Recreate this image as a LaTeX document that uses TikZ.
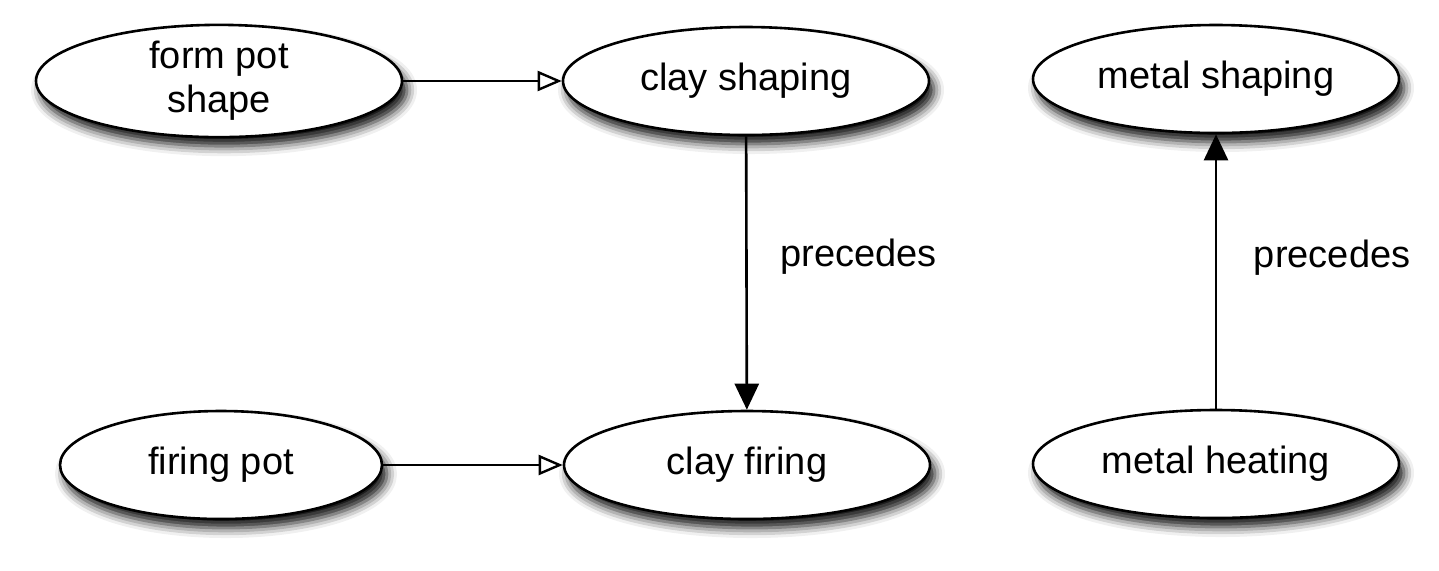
\documentclass[tikz,border=0pt]{standalone}
\usepackage{fontspec}
\setmainfont{Liberation Sans}
\usetikzlibrary{shapes.geometric,arrows.meta,shadows.blur}
\begin{document}
\begin{tikzpicture}[x=0.5pt,y=-0.5pt,
  ell/.style={ellipse,draw=black,line width=1.3pt,fill=white,inner sep=0pt,
    minimum width=183pt,minimum height=54pt,align=center,
    font=\fontsize{19}{22}\selectfont,
    blur shadow={shadow xshift=2.5pt,shadow yshift=-4.5pt,shadow blur radius=5pt,shadow opacity=95}},
  openarr/.style={line width=1.3pt,-{Triangle[open,length=12pt,width=10pt,line width=1.2pt]}},
  fullarr/.style={line width=1.3pt,-{Triangle[length=13pt,width=12pt]}},
  lab/.style={font=\fontsize{19}{22}\selectfont}]
\useasboundingbox (0,0) rectangle (1439,570);
\node[ell] (form) at (219,81) {form pot\\shape};
\node[ell] (cshape) at (746,81) {clay shaping};
\node[ell] (mshape) at (1216,79) {metal shaping};
\node[ell,minimum width=161pt] (fpot) at (221,465) {firing pot};
\node[ell] (cfire) at (747,465) {clay firing};
\node[ell] (mheat) at (1216,464) {metal heating};
\draw[openarr] (form) -- (cshape);
\draw[openarr] (fpot) -- (cfire);
\draw[fullarr] (cshape) -- (cfire) node[lab,pos=0.44,right=13pt] {precedes};
\draw[fullarr] (mheat) -- (mshape) node[lab,pos=0.55,right=15pt] {precedes};
\end{tikzpicture}
\end{document}
